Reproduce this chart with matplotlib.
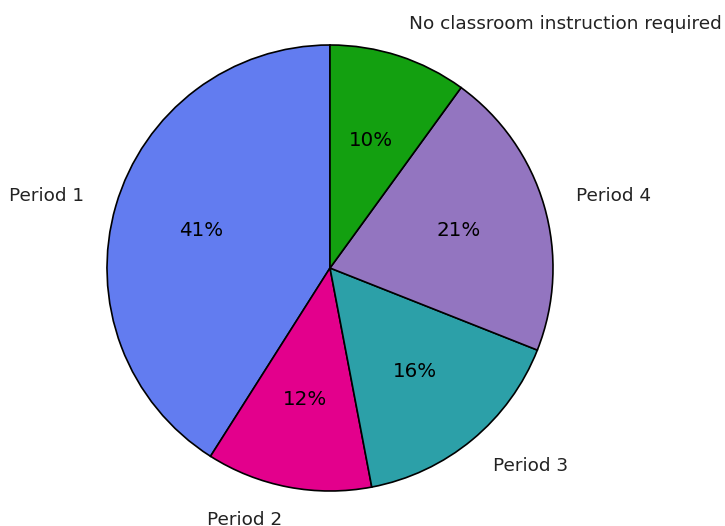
import matplotlib
matplotlib.use("Agg")
import matplotlib.pyplot as plt

labels = ["Period 1", "Period 2", "Period 3", "Period 4", "No classroom instruction required"]
values = [41, 12, 16, 21, 10]
colors = ["#627CF0", "#E3008C", "#2CA0A8", "#9375C0", "#13A010"]

W, H = 725, 526
fig = plt.figure(figsize=(W / 100, H / 100), dpi=100)
ax = fig.add_axes([0, 0, 1, 1])

wedges, texts, autotexts = ax.pie(
    values, labels=labels, colors=colors, startangle=90, counterclock=True,
    autopct="%1.0f%%", labeldistance=1.15,
    wedgeprops=dict(edgecolor="black", linewidth=1.2),
    textprops=dict(fontsize=13.3, color="#222222"),
)
for t in autotexts:
    t.set_fontsize(14.3)
    t.set_color("black")

r = 223.0
cx, cy = 330.0, 526 - 268.0
ax.set_xlim(-cx / r, (W - cx) / r)
ax.set_ylim(-cy / r, (H - cy) / r)
ax.set_aspect("auto")
ax.axis("off")

fig.savefig("out.png", dpi=100)
